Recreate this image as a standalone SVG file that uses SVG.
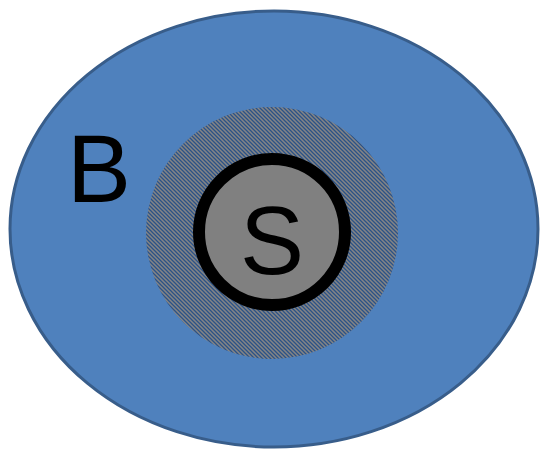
<svg xmlns="http://www.w3.org/2000/svg" width="540" height="450" viewBox="0 0 540 450">
<defs>
<pattern id="hatch" patternUnits="userSpaceOnUse" width="4" height="4">
<rect width="4" height="4" fill="#858585"/>
<path d="M-1,3 L1,5 M0,0 L4,4 M3,-1 L5,1" stroke="#2b5287" stroke-width="1.3"/>
</pattern>
</defs>
<style>
.lbl{font-family:"Liberation Sans",Arial,sans-serif;font-size:96px;fill:#000}
</style>
<g id="B">
<ellipse cx="274" cy="229" rx="264" ry="218" fill="#4f81bd" stroke="#385d8a" stroke-width="3"/>
<text class="lbl" x="67" y="202">B</text>
</g>
<g id="halo">
<circle cx="272" cy="233" r="126" fill="url(#hatch)"/>
</g>
<g id="S">
<circle cx="272" cy="232" r="73" fill="#808080" stroke="#000" stroke-width="12"/>
<text class="lbl" x="272" y="274" text-anchor="middle">S</text>
</g>
</svg>
